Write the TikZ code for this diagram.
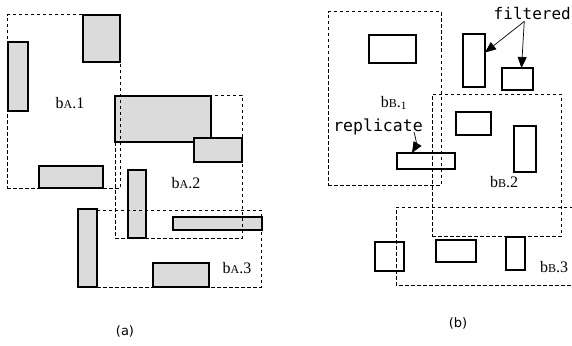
\documentclass[tikz,border=0pt]{standalone}
\usepackage{fontspec}
\setmainfont{Liberation Serif}
\newfontfamily\capfont{DejaVu Sans}
\newfontfamily\notefont{DejaVu Sans Mono}
\usetikzlibrary{arrows.meta}

\begin{document}
\begin{tikzpicture}[x=1pt, y=-1pt]

    \useasboundingbox (0,0) rectangle (572,345); % same size as the scanned figure

    % style: every item rectangle is placed by its top left corner,
    % shaded ones in (a), plain ones in (b), dashed ones are the groups
    \begin{scope}[every node/.style={anchor=north west, inner sep=0pt, outer sep=0pt},
                  sh/.style={draw, line width=1.6pt, fill=gray!28},
                  pl/.style={draw, line width=1.1pt, fill=white},
                  grp/.style={draw, line width=1pt, dash pattern=on 3.5pt off 2.5pt}]

    % (a) shaded items
    \node [sh, minimum width=37pt, minimum height=47pt] (a1) at (83,15)  {};
    \node [sh, minimum width=20pt, minimum height=69pt] (a2) at (8,42)   {};
    \node [sh, minimum width=64pt, minimum height=22pt] (a3) at (39,166) {};
    \node [sh, minimum width=96pt, minimum height=46pt] (a4) at (115,96) {};
    \node [sh, minimum width=48pt, minimum height=24pt] (a5) at (194,138) {};
    \node [sh, minimum width=18pt, minimum height=68pt] (a6) at (128,170) {};
    \node [sh, minimum width=89pt, minimum height=13pt] (a7) at (173,217) {};
    \node [sh, minimum width=19pt, minimum height=78pt] (a8) at (78,209) {};
    \node [sh, minimum width=56pt, minimum height=24pt] (a9) at (153,263) {};

    % (b) plain items
    \node [pl, minimum width=47pt, minimum height=28pt] (b1) at (369,35)  {};
    \node [pl, minimum width=58pt, minimum height=16pt] (b2) at (397,153) {};
    \node [pl, minimum width=22pt, minimum height=53pt] (b3) at (463,34)  {};
    \node [pl, minimum width=31pt, minimum height=22pt] (b4) at (502,68)  {};
    \node [pl, minimum width=35pt, minimum height=23pt] (b5) at (456,112) {};
    \node [pl, minimum width=22pt, minimum height=46pt] (b6) at (514,126) {};
    \node [pl, minimum width=29pt, minimum height=29pt] (b7) at (375,242) {};
    \node [pl, minimum width=40pt, minimum height=22pt] (b8) at (436,240) {};
    \node [pl, minimum width=19pt, minimum height=33pt] (b9) at (506,237) {};

    % dashed groups on top
    \node [grp, minimum width=113pt, minimum height=173pt] (gA1) at (7,15)   {};
    \node [grp, minimum width=127pt, minimum height=143pt] (gA2) at (115,95) {};
    \node [grp, minimum width=164pt, minimum height=77pt]  (gA3) at (97,210) {};
    \node [grp, minimum width=113pt, minimum height=173pt] (gB1) at (328,12) {};
    \node [grp, minimum width=129pt, minimum height=142pt] (gB2) at (432,94) {};
    \draw [grp] (573,207) -| (396,285) -- (573,285); % runs off the right side

    \end{scope}

    % group names and notes
    \begin{scope}[every node/.style={inner sep=1pt, font=\fontsize{16}{18}\selectfont}]

    \node (lA1) at (70,103)  {b{\fontsize{12}{14}\selectfont A}.1};
    \node (lA2) at (186,183) {b{\fontsize{12}{14}\selectfont A}.2};
    \node (lA3) at (237,268) {b{\fontsize{12}{14}\selectfont A}.3};
    \node (lB1) at (394,103) {b{\fontsize{12}{14}\selectfont B}.\textsubscript{1}};
    \node (lB2) at (504,182) {b{\fontsize{12}{14}\selectfont B}.2};
    \node (lB3) at (554,267) {b{\fontsize{12}{14}\selectfont B}.3};

    \node [font=\notefont\fontsize{16.5}{18}\selectfont] (rep) at (378,127) {replicate};
    \node [font=\notefont\fontsize{16}{18}\selectfont, anchor=east, inner sep=0pt] (fil) at (571,13) {filtered};

    \node [font=\capfont\fontsize{13}{15}\selectfont] (capa) at (125,331) {(a)};
    \node [font=\capfont\fontsize{13}{15}\selectfont] (capb) at (458,323) {(b)};

    \end{scope}

    \begin{scope}[every path/.style={-{Triangle[length=11pt, width=9pt]}, draw, line width=0.7pt}]

        \draw ([xshift=-10pt, yshift=4pt]rep.south east) to [bend left=25] ([xshift=15pt]b2.north west);
        \draw ([xshift=-8pt, yshift=-2pt]fil.south) -- ([yshift=8pt]b3.east);
        \draw ([xshift=-8pt, yshift=-2pt]fil.south) -- ([xshift=4pt]b4.north);

    \end{scope}

\end{tikzpicture}
\end{document}
